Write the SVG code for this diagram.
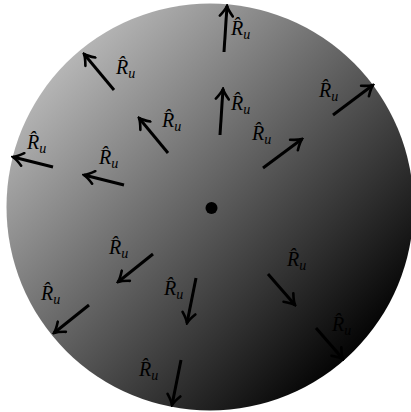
<svg xmlns="http://www.w3.org/2000/svg" width="411" height="412" viewBox="0 0 411 412">
<style>
.arr{stroke:#000;stroke-width:3;fill:none;marker-end:url(#head)}
.lbl{font-family:"Liberation Serif","DejaVu Serif",serif;font-style:italic;font-size:20px;fill:#000}
.sub{font-size:14px}
</style>
<defs>
<linearGradient id="shade" gradientUnits="userSpaceOnUse" x1="60" y1="60" x2="360" y2="360">
<stop offset="0" stop-color="#b8b8b8"/>
<stop offset="1" stop-color="#000"/>
</linearGradient>
<marker id="head" markerUnits="userSpaceOnUse" viewBox="-12 -8 14 16" refX="0" refY="0" markerWidth="14" markerHeight="16" orient="auto">
<path d="M-10,-6.5 Q-4,-1.5 0,0 Q-4,1.5 -10,6.5" stroke="#000" stroke-width="2.6" fill="none" stroke-linecap="round"/>
</marker>
</defs>
<g id="disk">
<circle cx="210" cy="207" r="203.5" fill="url(#shade)"/>
</g>
<g id="center">
<circle cx="211.5" cy="208" r="6" fill="#000"/>
</g>
<g id="connectors">
<line class="arr" x1="224" y1="52" x2="227" y2="6"/>
<line class="arr" x1="220" y1="135" x2="223" y2="89"/>
<line class="arr" x1="263" y1="168" x2="302" y2="139"/>
<line class="arr" x1="333" y1="115" x2="373" y2="85"/>
<line class="arr" x1="114" y1="90" x2="84" y2="54"/>
<line class="arr" x1="168" y1="153" x2="139" y2="118"/>
<line class="arr" x1="53" y1="167" x2="13" y2="157"/>
<line class="arr" x1="124" y1="185" x2="84" y2="175"/>
<line class="arr" x1="153" y1="254" x2="118" y2="282"/>
<line class="arr" x1="89" y1="305" x2="54" y2="333"/>
<line class="arr" x1="196" y1="278" x2="187" y2="323"/>
<line class="arr" x1="181" y1="360" x2="172" y2="405"/>
<line class="arr" x1="268" y1="274" x2="295" y2="305"/>
<line class="arr" x1="316" y1="328" x2="343" y2="359"/>
</g>
<g id="labels">
<text class="lbl" x="231" y="35">R̂<tspan class="sub" dy="4">u</tspan></text>
<text class="lbl" x="231" y="110">R̂<tspan class="sub" dy="4">u</tspan></text>
<text class="lbl" x="252" y="140">R̂<tspan class="sub" dy="4">u</tspan></text>
<text class="lbl" x="319" y="97">R̂<tspan class="sub" dy="4">u</tspan></text>
<text class="lbl" x="116" y="74">R̂<tspan class="sub" dy="4">u</tspan></text>
<text class="lbl" x="162" y="127">R̂<tspan class="sub" dy="4">u</tspan></text>
<text class="lbl" x="27" y="149">R̂<tspan class="sub" dy="4">u</tspan></text>
<text class="lbl" x="99" y="164">R̂<tspan class="sub" dy="4">u</tspan></text>
<text class="lbl" x="109" y="254">R̂<tspan class="sub" dy="4">u</tspan></text>
<text class="lbl" x="41" y="300">R̂<tspan class="sub" dy="4">u</tspan></text>
<text class="lbl" x="164" y="295">R̂<tspan class="sub" dy="4">u</tspan></text>
<text class="lbl" x="139" y="376">R̂<tspan class="sub" dy="4">u</tspan></text>
<text class="lbl" x="287" y="266">R̂<tspan class="sub" dy="4">u</tspan></text>
<text class="lbl" x="332" y="331">R̂<tspan class="sub" dy="4">u</tspan></text>
</g>
</svg>
